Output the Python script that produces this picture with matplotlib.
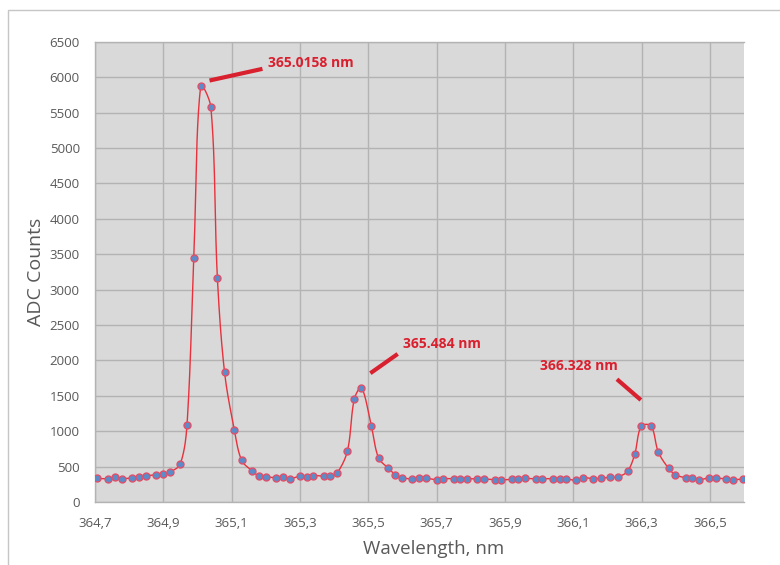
import numpy as np
import matplotlib
matplotlib.use("Agg")
import matplotlib.pyplot as plt
from matplotlib.ticker import FixedLocator, FuncFormatter
from matplotlib.patches import Rectangle

# ---------------- data ----------------
wavelength = [
    364.706, 364.739, 364.758, 364.778, 364.809, 364.829, 364.849, 364.879, 364.898, 364.919,
    364.949, 364.969, 364.989, 365.009, 365.039, 365.058, 365.079, 365.108, 365.129, 365.159,
    365.180, 365.199, 365.230, 365.249, 365.270, 365.299, 365.319, 365.339, 365.369, 365.389,
    365.409, 365.439, 365.459, 365.480, 365.509, 365.530, 365.559, 365.579, 365.599, 365.629,
    365.649, 365.670, 365.700, 365.719, 365.750, 365.769, 365.790, 365.819, 365.840, 365.870,
    365.889, 365.920, 365.939, 365.960, 365.990, 366.010, 366.040, 366.060, 366.080, 366.109,
    366.130, 366.159, 366.180, 366.209, 366.230, 366.259, 366.280, 366.299, 366.328, 366.349,
    366.379, 366.399, 366.429, 366.448, 366.469, 366.498, 366.519, 366.548, 366.569, 366.598,
]
counts = [
    335, 329, 357, 329, 343, 353, 372, 382, 396, 424,
    533, 1084, 3452, 5870, 5577, 3169, 1833, 1010, 589, 442,
    367, 357, 343, 353, 329, 363, 353, 372, 367, 367,
    410, 725, 1455, 1615, 1070, 622, 476, 382, 343, 325,
    335, 335, 315, 329, 329, 321, 329, 325, 325, 315,
    311, 321, 329, 335, 325, 329, 329, 321, 325, 307,
    343, 329, 335, 349, 353, 434, 674, 1070, 1074, 707,
    476, 386, 343, 343, 315, 343, 339, 325, 315, 325,
]
peak_labels = ["365.0158 nm", "365.484 nm", "366.328 nm"]
x_ticks = [364.7, 364.9, 365.1, 365.3, 365.5, 365.7, 365.9, 366.1, 366.3, 366.5]
y_ticks = list(range(0, 6501, 500))
x_label = "Wavelength, nm"
y_label = "ADC Counts"

# ---------------- layout / style ----------------
W, H = 780, 565
FONT = "Open Sans"
TXT = "#595959"
GRID = "#B3B3B3"
LINE_RED = "#E8313C"
ANN_RED = "#D9202F"
MARK_FACE = "#5B8BC8"
MARK_EDGE = "#E0506A"

# annotation geometry (data coords): (line start, line end, text pos, ha)
ann_geom = [
    ((365.035, 5953), (365.190, 6118), (365.206, 6199), "left"),
    ((365.506, 1819), (365.586, 2091), (365.601, 2233), "left"),
    ((366.298, 1441), (366.228, 1734), (366.231, 1926), "right"),
]


def excel_smooth(ax, x, y, n=24):
    """Chord-length weighted Bezier smoothing, computed in display space."""
    P = ax.transData.transform(np.column_stack([x, y]).astype(float))
    Pe = np.vstack([P[0], P, P[-1]])
    t = np.linspace(0, 1, n)[:, None]
    out = []
    for i in range(len(P) - 1):
        p_prev, p0, p3, p_next = Pe[i], Pe[i + 1], Pe[i + 2], Pe[i + 3]
        d01 = np.hypot(*(p0 - p_prev))
        d12 = np.hypot(*(p3 - p0))
        d23 = np.hypot(*(p_next - p3))
        f1 = d12 / (d01 + d12) / 3.0 if (d01 + d12) > 0 else 0.0
        f2 = d12 / (d12 + d23) / 3.0 if (d12 + d23) > 0 else 0.0
        c1 = p0 + (p3 - p_prev) * f1
        c2 = p3 - (p_next - p0) * f2
        seg = (1 - t) ** 3 * p0 + 3 * (1 - t) ** 2 * t * c1 + 3 * (1 - t) * t ** 2 * c2 + t ** 3 * p3
        out.append(seg if i == 0 else seg[1:])
    return ax.transData.inverted().transform(np.vstack(out))


fig = plt.figure(figsize=(W / 100, H / 100), dpi=100)
fig.patch.set_facecolor("white")

# outer chart frame
fig.add_artist(Rectangle((8 / W, -0.05), 1.1, 1 - 10 / H + 0.05, transform=fig.transFigure,
                         fill=False, edgecolor="#C6C6C6", linewidth=1.0))

ax = fig.add_axes([95.1 / W, 1 - 502 / H, (744 - 95.1) / W, (502 - 41.8) / H])
ax.set_facecolor("#D9D9D9")
ax.set_xlim(364.7, 366.6)
ax.set_ylim(0, 6500)

ax.xaxis.set_major_locator(FixedLocator(x_ticks))
ax.yaxis.set_major_locator(FixedLocator(y_ticks))
ax.xaxis.set_major_formatter(FuncFormatter(lambda v, p: f"{v:.1f}".replace(".", ",")))
ax.yaxis.set_major_formatter(FuncFormatter(lambda v, p: f"{int(round(v))}"))
ax.grid(True, color=GRID, linewidth=1.0)
ax.set_axisbelow(True)
ax.tick_params(length=0, labelsize=9.5, labelcolor=TXT, pad=11)
for lab in ax.get_xticklabels() + ax.get_yticklabels():
    lab.set_fontfamily(FONT)
for s in ["left", "bottom", "top"]:
    ax.spines[s].set_color(GRID)
    ax.spines[s].set_linewidth(1.0)
ax.spines["right"].set_visible(False)

curve = excel_smooth(ax, wavelength, counts)
ax.plot(curve[:, 0], curve[:, 1], color=LINE_RED, linewidth=1.0, zorder=3)
ax.plot(wavelength, counts, linestyle="none", marker="o", markersize=5,
        markerfacecolor=MARK_FACE, markeredgecolor=MARK_EDGE, markeredgewidth=1.0, zorder=4)

for label, (p0, p1, tp, ha) in zip(peak_labels, ann_geom):
    ax.plot([p0[0], p1[0]], [p0[1], p1[1]], color=ANN_RED, linewidth=3.0,
            solid_capstyle="butt", zorder=5, clip_on=False)
    ax.text(tp[0], tp[1], label, ha=ha, va="center", color=ANN_RED,
            fontsize=10, fontweight="bold", family=FONT, zorder=6)

ax.set_xlabel(x_label, fontsize=13.5, color=TXT, family=FONT, labelpad=7)
ax.xaxis.label.set_x(0.522)
ax.set_ylabel(y_label, fontsize=14, color=TXT, family=FONT, labelpad=3)

fig.savefig("out.png", dpi=100, facecolor="white")
